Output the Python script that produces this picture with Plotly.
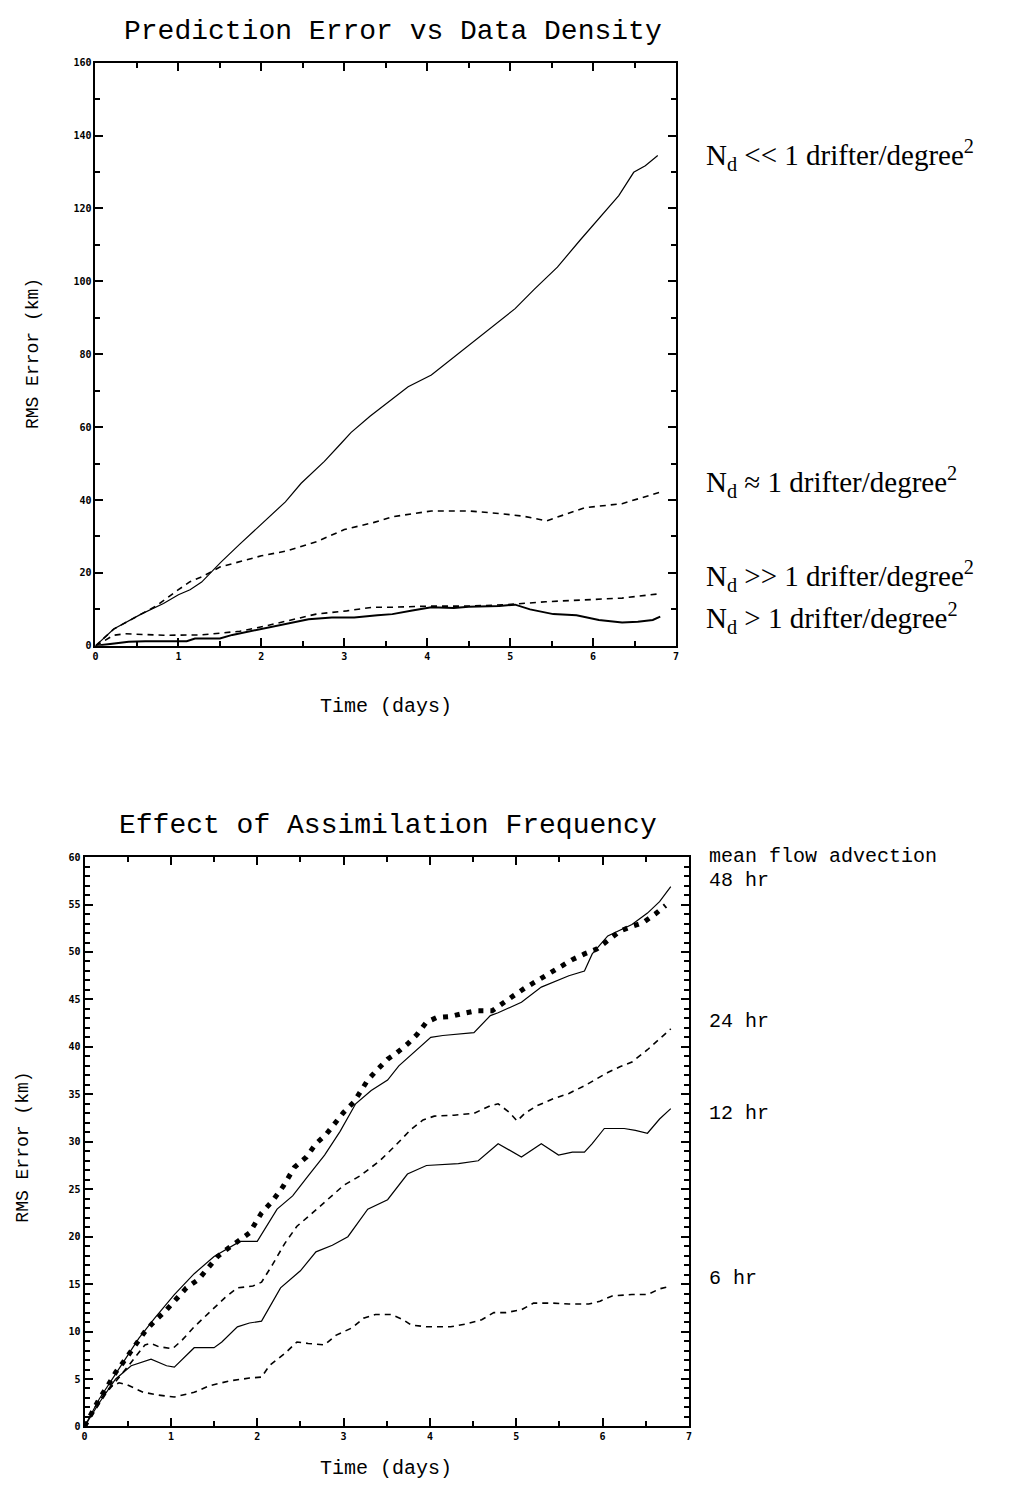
import plotly.graph_objects as go

# ---------------- Top panel: Prediction Error vs Data Density ----------------
top_x_ticks = [0, 1, 2, 3, 4, 5, 6, 7]
top_y_ticks = [0, 20, 40, 60, 80, 100, 120, 140, 160]

a_x = [0, 0.22, 0.55, 0.82, 1.0, 1.14, 1.28, 1.51, 1.74, 2.02, 2.29, 2.48, 2.76, 2.96, 3.08,
       3.31, 3.54, 3.77, 4.05, 4.28, 4.51, 4.78, 5.06, 5.29, 5.57, 5.84, 6.07, 6.31, 6.49, 6.63, 6.78]
a_y = [0, 4.6, 8.7, 11.6, 14.0, 15.4, 17.5, 22.9, 27.9, 33.7, 39.5, 44.6, 50.6, 55.5, 58.5,
       63.0, 67.0, 71.1, 74.3, 78.4, 82.5, 87.5, 92.5, 97.8, 103.9, 111.2, 117.2, 123.5, 129.9, 131.7, 134.5]

b_x = [0, 0.22, 0.55, 0.73, 1.0, 1.14, 1.28, 1.5, 2.0, 2.3, 2.67, 3.0, 3.35, 3.58, 4.05, 4.5,
       4.87, 5.15, 5.44, 5.7, 5.9, 6.35, 6.55, 6.8]
b_y = [0, 4.6, 8.7, 10.9, 15.4, 17.6, 18.9, 21.6, 24.7, 26.0, 28.6, 31.9, 33.8, 35.4, 37.0, 37.0,
       36.3, 35.6, 34.3, 36.3, 37.9, 39.0, 40.4, 42.1]

c_x = [0, 0.22, 0.36, 0.82, 1.28, 1.51, 1.74, 2.02, 2.34, 2.66, 3.03, 3.35, 3.58, 4.05, 4.5,
       4.97, 5.43, 5.89, 6.35, 6.81]
c_y = [0, 2.9, 3.3, 2.9, 3.0, 3.5, 4.0, 5.3, 6.9, 8.7, 9.6, 10.6, 10.6, 10.9, 10.9,
       11.3, 12.1, 12.5, 13.1, 14.3]

d_x = [0, 0.22, 0.4, 0.6, 1.1, 1.2, 1.5, 1.65, 1.88, 2.11, 2.34, 2.57, 2.85, 3.12, 3.4, 3.58,
       3.82, 4.05, 4.32, 4.5, 4.87, 5.06, 5.24, 5.52, 5.8, 6.07, 6.35, 6.54, 6.72, 6.81]
d_y = [0, 0.6, 1.1, 1.25, 1.25, 2.0, 2.0, 3.0, 4.1, 5.1, 6.3, 7.3, 7.8, 7.8, 8.4, 8.7,
       9.7, 10.6, 10.4, 10.7, 10.9, 11.3, 10.0, 8.7, 8.4, 7.1, 6.4, 6.6, 7.1, 8.0]

top_labels = ["N<sub>d</sub> &lt;&lt; 1 drifter/degree<sup>2</sup>",
              "N<sub>d</sub> ≈ 1 drifter/degree<sup>2</sup>",
              "N<sub>d</sub> &gt;&gt; 1 drifter/degree<sup>2</sup>",
              "N<sub>d</sub> &gt; 1 drifter/degree<sup>2</sup>"]
top_label_y = [150, 480, 575, 617]

# ---------------- Bottom panel: Effect of Assimilation Frequency ----------------
bot_x_ticks = [0, 1, 2, 3, 4, 5, 6, 7]
bot_y_ticks = [0, 5, 10, 15, 20, 25, 30, 35, 40, 45, 50, 55, 60]

mf_x = [0, 0.17, 0.40, 0.63, 0.81, 1.04, 1.27, 1.50, 1.80, 2.0, 2.23, 2.41, 2.59, 2.78, 2.96,
        3.14, 3.32, 3.51, 3.64, 3.78, 4.01, 4.15, 4.51, 4.70, 4.79, 5.06, 5.29, 5.61, 5.79,
        5.88, 6.06, 6.34, 6.52, 6.66, 6.79]
mf_y = [0, 2.9, 6.1, 9.3, 11.4, 13.9, 16.1, 17.9, 19.5, 19.5, 22.9, 24.3, 26.4, 28.6, 31.1,
        34.0, 35.4, 36.5, 38.0, 39.1, 41.0, 41.2, 41.5, 43.3, 43.6, 44.7, 46.3, 47.5, 48.0,
        49.8, 51.7, 52.9, 54.1, 55.3, 56.9]

h48_x = [0, 0.08, 0.17, 0.27, 0.36, 0.45, 0.56, 0.70, 0.81, 0.93, 1.06, 1.18, 1.32, 1.43, 1.54,
         1.66, 1.79, 1.91, 2.05, 2.18, 2.30, 2.43, 2.57, 2.68, 2.80, 2.91, 3.0, 3.12, 3.19, 3.28,
         3.39, 3.51, 3.62, 3.74, 3.85, 3.96, 4.08, 4.24, 4.37, 4.53, 4.72, 4.85, 4.97, 5.1, 5.24,
         5.38, 5.52, 5.65, 5.79, 5.93, 6.06, 6.2, 6.34, 6.47, 6.61, 6.73]
h48_y = [0, 1.4, 2.9, 4.3, 5.7, 6.8, 8.2, 10.0, 11.1, 12.1, 13.4, 14.6, 15.5, 16.8, 17.9,
         18.75, 19.6, 20.4, 22.5, 23.8, 25.3, 27.3, 28.4, 29.8, 30.8, 32.1, 33.1, 34.2, 35.2, 36.5,
         37.6, 38.7, 39.4, 40.3, 41.3, 42.6, 43.1, 43.2, 43.5, 43.8, 43.8, 44.7, 45.4, 46.2, 47.0,
         47.7, 48.5, 49.2, 49.8, 50.3, 51.2, 52.2, 52.7, 53.1, 54.0, 54.9]

h24_x = [0, 0.25, 0.5, 0.7, 0.77, 0.86, 1.02, 1.13, 1.27, 1.45, 1.63, 1.77, 1.95, 2.05, 2.18,
         2.32, 2.46, 2.64, 2.82, 3.0, 3.19, 3.42, 3.6, 3.78, 3.92, 4.05, 4.28, 4.51, 4.7, 4.79,
         4.92, 5.01, 5.1, 5.24, 5.42, 5.61, 5.79, 5.93, 6.06, 6.2, 6.34, 6.52, 6.66, 6.79]
h24_y = [0, 3.5, 6.3, 8.6, 8.75, 8.4, 8.2, 9.1, 10.5, 12.0, 13.6, 14.6, 14.8, 15.2, 17.1,
         19.3, 21.1, 22.5, 23.9, 25.4, 26.4, 28.0, 29.6, 31.3, 32.3, 32.7, 32.8, 33.0, 33.8, 34.0,
         33.1, 32.2, 33.0, 33.8, 34.5, 35.1, 35.9, 36.6, 37.3, 37.9, 38.4, 39.7, 40.8, 41.9]

h12_x = [0, 0.17, 0.36, 0.54, 0.77, 0.95, 1.04, 1.27, 1.5, 1.59, 1.77, 1.91, 2.05, 2.27, 2.5,
         2.68, 2.87, 3.05, 3.28, 3.51, 3.74, 3.96, 4.33, 4.56, 4.79, 5.06, 5.29, 5.49, 5.65,
         5.79, 5.88, 6.02, 6.25, 6.38, 6.52, 6.66, 6.79]
h12_y = [0, 2.5, 5.0, 6.4, 7.1, 6.4, 6.25, 8.3, 8.3, 8.9, 10.5, 10.9, 11.1, 14.6, 16.4,
         18.4, 19.1, 20.0, 22.9, 23.9, 26.6, 27.5, 27.7, 28.0, 29.8, 28.4, 29.8, 28.6, 28.9,
         28.9, 29.8, 31.4, 31.4, 31.2, 30.9, 32.4, 33.5]

h6_x = [0, 0.15, 0.3, 0.4, 0.49, 0.68, 0.86, 1.04, 1.27, 1.45, 1.68, 1.91, 2.05, 2.14, 2.32,
        2.46, 2.59, 2.78, 2.91, 3.1, 3.23, 3.37, 3.55, 3.69, 3.78, 3.96, 4.24, 4.42, 4.6, 4.74,
        4.88, 5.06, 5.2, 5.42, 5.61, 5.84, 5.97, 6.11, 6.34, 6.52, 6.66, 6.79]
h6_y = [0, 2.5, 4.2, 4.6, 4.4, 3.6, 3.3, 3.1, 3.6, 4.3, 4.8, 5.1, 5.2, 6.4, 7.7,
        8.9, 8.75, 8.6, 9.6, 10.4, 11.4, 11.8, 11.8, 11.25, 10.7, 10.5, 10.5, 10.8, 11.25, 12.0,
        12.0, 12.3, 13.0, 13.0, 12.9, 12.9, 13.2, 13.75, 13.9, 13.9, 14.5, 14.8]

bot_labels = ["mean flow advection", "48 hr", "24 hr", "12 hr", "6 hr"]
bot_label_y = [857, 882, 1024, 1116, 1283]

# ---------------- Figure ----------------
OFF = 8                      # default page body margin
W, H = 1019 - 2 * OFF, 1496 - 2 * OFF
BLK = "black"


def px(x):
    return (x - OFF) / W


def py(y):
    return 1 - (y - OFF) / H


fig = go.Figure()


def add_line(x, y, xa, ya, width=1.2, dash="solid"):
    fig.add_trace(go.Scatter(x=x, y=y, mode="lines", xaxis=xa, yaxis=ya,
                             line=dict(color=BLK, width=width, dash=dash),
                             showlegend=False, hoverinfo="skip"))


add_line(a_x, a_y, "x", "y", 1.2)
add_line(b_x, b_y, "x", "y", 1.6, "6px,5px")
add_line(c_x, c_y, "x", "y", 1.6, "6px,5px")
add_line(d_x, d_y, "x", "y", 2.0)

add_line(mf_x, mf_y, "x2", "y2", 1.2)
add_line(h48_x, h48_y, "x2", "y2", 5, "5px,7px")
add_line(h24_x, h24_y, "x2", "y2", 1.6, "6px,5px")
add_line(h12_x, h12_y, "x2", "y2", 1.2)
add_line(h6_x, h6_y, "x2", "y2", 1.6, "6px,5px")

tickfont = dict(family="DejaVu Sans Mono", size=10, color=BLK, weight="bold")
common = dict(showgrid=False, zeroline=False, showline=True, linecolor=BLK, linewidth=2,
              mirror="ticks", ticks="inside", tickcolor=BLK, tickwidth=2, ticklen=8,
              tickfont=tickfont, fixedrange=True)

fig.update_layout(
    width=W, height=H,
    margin=dict(l=0, r=0, t=0, b=0, pad=0),
    paper_bgcolor="white", plot_bgcolor="white",
    xaxis=dict(domain=[px(93), px(677)], range=[0, 7], tickvals=top_x_ticks,
               ticktext=[str(v) for v in top_x_ticks], anchor="y",
               minor=dict(dtick=0.5, ticks="inside", ticklen=5, tickcolor=BLK, tickwidth=2),
               **common),
    yaxis=dict(domain=[py(645), py(57)], range=[0, 160], tickvals=top_y_ticks,
               ticktext=[str(v) for v in top_y_ticks], anchor="x",
               minor=dict(dtick=10, ticks="inside", ticklen=5, tickcolor=BLK, tickwidth=2),
               **common),
    xaxis2=dict(domain=[px(82), px(690)], range=[0, 7], tickvals=bot_x_ticks,
                ticktext=[str(v) for v in bot_x_ticks], anchor="y2",
                minor=dict(dtick=0.5, ticks="inside", ticklen=5, tickcolor=BLK, tickwidth=2),
                **common),
    yaxis2=dict(domain=[py(1432), py(858)], range=[0, 60], tickvals=bot_y_ticks,
                ticktext=[str(v) for v in bot_y_ticks], anchor="x2",
                minor=dict(dtick=1, ticks="inside", ticklen=5, tickcolor=BLK, tickwidth=1.5),
                **common),
)

mono = "Liberation Mono"
ann = []


def txt(x, y, text, size, family=mono, xanchor="center", yanchor="middle", angle=0):
    ann.append(dict(x=px(x), y=py(y), xref="paper", yref="paper", text=text,
                    showarrow=False, xanchor=xanchor, yanchor=yanchor, textangle=angle,
                    font=dict(family=family, size=size, color=BLK)))


txt(392, 8, "Prediction Error vs Data Density", 28, yanchor="top")
txt(385, 706, "Time (days)", 20)
txt(30, 350, "RMS Error (km)", 18, angle=-90)

txt(387, 826, "Effect of Assimilation Frequency", 28)
txt(385, 1488, "Time (days)", 20, yanchor="bottom")
txt(20, 1150, "RMS Error (km)", 18, angle=-90)

for lab, yy in zip(top_labels, top_label_y):
    txt(705, yy, lab, 29, family="Liberation Serif", xanchor="left")
for lab, yy in zip(bot_labels, bot_label_y):
    txt(708, yy, lab, 20, xanchor="left")

fig.update_layout(annotations=ann)
fig.write_html("out.html")
